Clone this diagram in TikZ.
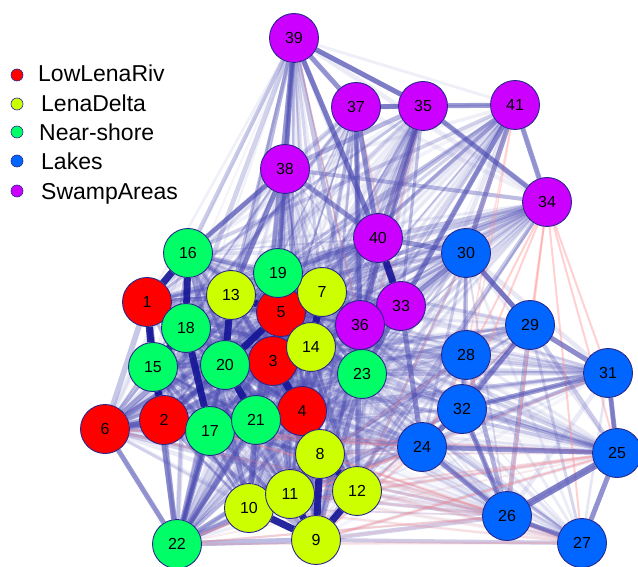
\documentclass[tikz,border=0pt]{standalone}
\usepackage{fontspec}
\setmainfont{Liberation Sans}
\usepackage{xcolor}
\usepackage{tikz}

\definecolor{rivred}{RGB}{255,0,0}
\definecolor{deltayel}{RGB}{204,255,0}
\definecolor{shoregreen}{RGB}{0,255,102}
\definecolor{lakeblue}{RGB}{0,102,255}
\definecolor{swamppurple}{RGB}{204,0,255}
\definecolor{rim}{RGB}{40,40,140}
\definecolor{edgeblue}{RGB}{75,75,178}
\definecolor{edgenavy}{RGB}{20,20,150}
\definecolor{edgered}{RGB}{255,140,140}

\pgfdeclarelayer{edges}
\pgfsetlayers{edges,main}

\begin{document}
\begin{tikzpicture}[x=1pt,y=-1pt,
  site/.style={circle,draw=rim,line width=0.9pt,minimum size=49pt,inner sep=0pt,font=\fontsize{16}{16}\selectfont},
  riv/.style={site,fill=rivred},
  delta/.style={site,fill=deltayel},
  shore/.style={site,fill=shoregreen},
  lake/.style={site,fill=lakeblue},
  swamp/.style={site,fill=swamppurple},
  neg/.style={edgered,line width=2pt,opacity=0.3},
  mid/.style={edgeblue,line width=5pt,opacity=0.55},
  strong/.style={edgenavy,line width=7pt,opacity=0.9},
  keydot/.style={circle,draw=rim,line width=0.6pt,minimum size=12pt,inner sep=0pt},
  keytext/.style={anchor=base west,inner sep=0pt,font=\fontsize{23}{23}\selectfont}]
\useasboundingbox (0,0) rectangle (638,567);

\node[riv] (n1) at (147,302) {1};
\node[riv] (n2) at (164,420) {2};
\node[riv] (n3) at (273,361) {3};
\node[riv] (n4) at (302,411) {4};
\node[riv] (n5) at (281,312) {5};
\node[riv] (n6) at (105,429) {6};
\node[delta] (n7) at (322,292) {7};
\node[delta] (n8) at (320,454) {8};
\node[delta] (n9) at (316,540) {9};
\node[delta] (n10) at (249,508) {10};
\node[delta] (n11) at (290,494) {11};
\node[delta] (n12) at (357,491) {12};
\node[delta] (n13) at (231,295) {13};
\node[delta] (n14) at (311,347) {14};
\node[shore] (n15) at (153,367) {15};
\node[shore] (n16) at (188,253) {16};
\node[shore] (n17) at (210,431) {17};
\node[shore] (n18) at (186,328) {18};
\node[shore] (n19) at (278,273) {19};
\node[shore] (n20) at (225,365) {20};
\node[shore] (n21) at (256,420) {21};
\node[shore] (n22) at (177,544) {22};
\node[shore] (n23) at (362,374) {23};
\node[lake] (n24) at (422,447) {24};
\node[lake] (n25) at (617,453) {25};
\node[lake] (n26) at (507,516) {26};
\node[lake] (n27) at (582,543) {27};
\node[lake] (n28) at (466,355) {28};
\node[lake] (n29) at (530,325) {29};
\node[lake] (n30) at (466,253) {30};
\node[lake] (n31) at (608,373) {31};
\node[lake] (n32) at (462,409) {32};
\node[swamp] (n33) at (401,306) {33};
\node[swamp] (n34) at (547,202) {34};
\node[swamp] (n35) at (423,106) {35};
\node[swamp] (n36) at (360,325) {36};
\node[swamp] (n37) at (356,107) {37};
\node[swamp] (n38) at (285,169) {38};
\node[swamp] (n39) at (294,38) {39};
\node[swamp] (n40) at (378,238) {40};
\node[swamp] (n41) at (515,105) {41};

\begin{pgfonlayer}{edges}
\pgfmathsetseed{4}
\foreach \a in {1,...,23}{
  \foreach \b in {1,...,23}{
    \ifnum\a<\b
      \pgfmathsetmacro\op{0.1+0.45*rnd^2}
      \pgfmathsetmacro\lw{2+4*rnd}
      \draw[edgeblue,line width=\lw pt,opacity=\op] (n\a) -- (n\b);
    \fi
  }
}
\foreach \a in {1,...,23}{
  \foreach \b in {33,...,41}{
    \pgfmathsetmacro\op{0.06+0.35*rnd^2}
    \pgfmathsetmacro\lw{1.5+3.5*rnd}
    \draw[edgeblue,line width=\lw pt,opacity=\op] (n\a) -- (n\b);
  }
}
\foreach \a in {1,...,23}{
  \foreach \b in {24,...,32}{
    \pgfmathsetmacro\op{0.04+0.25*rnd^2}
    \pgfmathsetmacro\lw{1.5+3*rnd}
    \draw[edgeblue,line width=\lw pt,opacity=\op] (n\a) -- (n\b);
  }
}
\foreach \a in {33,...,41}{
  \foreach \b in {24,...,41}{
    \ifnum\a<\b
      \pgfmathsetmacro\op{0.08+0.35*rnd^2}
      \pgfmathsetmacro\lw{1.5+3.5*rnd}
      \draw[edgeblue,line width=\lw pt,opacity=\op] (n\a) -- (n\b);
    \fi
  }
}
\foreach \a in {24,...,32}{
  \foreach \b in {24,...,32}{
    \ifnum\a<\b
      \pgfmathsetmacro\op{0.1+0.4*rnd^2}
      \pgfmathsetmacro\lw{1.5+3.5*rnd}
      \draw[edgeblue,line width=\lw pt,opacity=\op] (n\a) -- (n\b);
    \fi
  }
}
\foreach \a in {6,8,9,10,11,12,17,22}{
  \foreach \b in {24,25,26,27}{
    \pgfmathsetmacro\op{0.08+0.25*rnd}
    \draw[neg,opacity=\op] (n\a) -- (n\b);
  }
}
\foreach \b in {24,25,26,27,29,31,32}
  \draw[neg,opacity=0.4] (n34) -- (n\b);
\foreach \a/\b in {41/28,41/32,41/30,35/23,35/36,35/40,37/33,39/36,30/12,29/9,31/22,25/9,28/10}
  \draw[neg,line width=1.5pt,opacity=0.3] (n\a) -- (n\b);

\foreach \a/\b in {39/38,39/37,39/35,37/35,35/41,35/34,41/34,38/40,41/33,39/40,37/40,35/40,
  35/36,37/36,6/22,6/2,17/22,22/21,22/20,30/29,29/31,29/32,32/31,32/26,32/24,24/25,24/26,
  25/27,31/25,26/27,30/33,30/40,33/24,33/23,38/16,38/19,38/13,40/19,41/30}
  \draw[mid] (n\a) -- (n\b);
\draw[mid,line width=7pt,opacity=0.7] (n26) -- (n25);

\foreach \a/\b in {8/9,8/11,8/12,9/11,9/12,9/10,1/15,1/16,1/18,15/2,18/17,13/20,20/5,3/4,3/5,
  5/7,3/14,14/7,36/33,40/33,36/23,16/18,13/5,2/17,17/21,21/4,4/8,15/18,20/21}
  \draw[strong] (n\a) -- (n\b);
\end{pgfonlayer}

\node[keydot,fill=rivred] (k1) at (17,75) {};
\node[keydot,fill=deltayel] (k2) at (17,104) {};
\node[keydot,fill=shoregreen] (k3) at (17,132) {};
\node[keydot,fill=lakeblue] (k4) at (17,161) {};
\node[keydot,fill=swamppurple] (k5) at (17,191) {};
\node[keytext] (t1) at (38,82) {LowLenaRiv};
\node[keytext] (t2) at (41,112) {LenaDelta};
\node[keytext] (t3) at (39,141) {Near-shore};
\node[keytext] (t4) at (41,170) {Lakes};
\node[keytext] (t5) at (41,200) {SwampAreas};
\end{tikzpicture}
\end{document}
